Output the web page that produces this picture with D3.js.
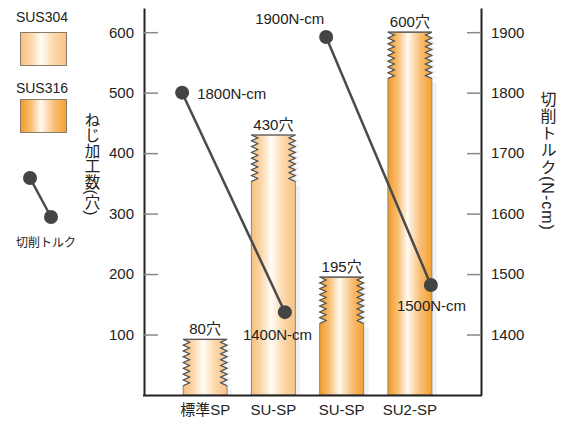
<!DOCTYPE html>
<html>
<head>
<meta charset="utf-8">
<script src="https://cdn.jsdelivr.net/npm/d3@7"></script>
<style>
    body { margin: 0; background: #fff; }
    text { font-family: "Liberation Sans", "Noto Sans CJK JP", sans-serif; fill: #222; }
    .tick line { stroke: #888; stroke-width: 1.5; }
</style>
</head>
<body>
<svg id="chart" width="565" height="422"></svg>
<script>
/*------------------- data --------------------*/
// categories along the bottom (two SU-SP bars)
const categories = ["標準SP", "SU-SP", "SU-SP", "SU2-SP"];
// material of each bar
const materials = ["SUS304", "SUS304", "SUS316", "SUS316"];
// hole counts as drawn
const holes = [92, 430, 195, 600];
const holeLabels = ["80穴", "430穴", "195穴", "600穴"];
// cutting torque as plotted, and its labels
const torque = [1800, 1437, 1892, 1482];
const torqueLabels = ["1800N-cm", "1400N-cm", "1900N-cm", "1500N-cm"];
// which bars the torque lines link
const torquePairs = [[0, 1], [2, 3]];
// tick labels
const leftTicks = [100, 200, 300, 400, 500, 600];
const rightTicks = [1400, 1500, 1600, 1700, 1800, 1900];

/*------------------- setup --------------------*/
const svg = d3.select("#chart");

const xScale = d3.scaleBand()
    .domain(d3.range(categories.length))
    .range([171, 444])
    .paddingInner(0.356)
    .paddingOuter(0.178);

const yLeft = d3.scaleLinear().domain([0, 640]).range([395, 8]);
const yRight = d3.scaleLinear().domain([1300, 1940]).range([395, 8]);

const defs = svg.append("defs");

function gradient(id, stops) {
    const g = defs.append("linearGradient").attr("id", id)
        .attr("x1", "0%").attr("x2", "100%").attr("y1", "0%").attr("y2", "0%");
    stops.forEach(s => g.append("stop").attr("offset", s[0]).attr("stop-color", s[1]));
}
gradient("g304", [["0%", "#f7c080"], ["22%", "#fbd6a8"], ["45%", "#fffcf7"], ["72%", "#fcd8ab"], ["100%", "#f8c388"]]);
gradient("g316", [["0%", "#f39a22"], ["22%", "#f8bd70"], ["45%", "#fffaf2"], ["72%", "#f9c07a"], ["100%", "#f4a02e"]]);
gradient("gShadow", [["0%", "#d8d8d8"], ["100%", "#f2f2f2"]]);

const fillFor = m => m === "SUS304" ? "url(#g304)" : "url(#g316)";

// thread geometry
const amp = 6.5, pitch = 5.8, threadLen = 44;

function threadCount(top, bottom) {
    return Math.max(1, Math.round(Math.min(threadLen, bottom - top - 5) / pitch));
}

// one threaded side, from top down, outer edge at xo, teeth towards xo + dir*amp
function threadPts(xo, dir, top, n) {
    const pts = [[xo, top]];
    for (let i = 0; i < n; i++) {
        pts.push([xo + dir * amp, top + (i + 0.5) * pitch]);
        pts.push([xo, top + (i + 1) * pitch]);
    }
    return pts;
}

// bar outline with threaded top
function barPath(x0, x1, top, bottom) {
    const n = threadCount(top, bottom);
    const left = threadPts(x0, 1, top, n);
    const right = threadPts(x1, -1, top, n).reverse();
    const pts = left.concat([[x0, bottom], [x1, bottom]], right);
    return "M" + pts.map(d => d[0] + "," + d[1]).join("L") + "Z";
}

function threadPath(x0, x1, top, bottom) {
    const n = threadCount(top, bottom);
    const line = d3.line();
    return line(threadPts(x0, 1, top, n)) + line(threadPts(x1, -1, top, n));
}

/*------------------- bars --------------------*/
const bars = svg.append("g");
const bx0 = i => xScale(i);
const bx1 = i => xScale(i) + xScale.bandwidth();

bars.selectAll(".shadow")
    .data(holes)
    .enter()
    .append("path")
    .attr("class", "shadow")
    .attr("fill", "url(#gShadow)")
    .attr("d", (d, i) => barPath(bx0(i) + 5, bx1(i) + 5, yLeft(d) + 5, 395));

bars.selectAll(".bar")
    .data(holes)
    .enter()
    .append("path")
    .attr("class", "bar")
    .attr("fill", (d, i) => fillFor(materials[i]))
    .attr("stroke", "#888")
    .attr("stroke-width", 1)
    .attr("d", (d, i) => barPath(bx0(i), bx1(i), yLeft(d), 395));

bars.selectAll(".thread")
    .data(holes)
    .enter()
    .append("path")
    .attr("class", "thread")
    .attr("fill", "none")
    .attr("stroke", "#555")
    .attr("stroke-width", 1.1)
    .attr("d", (d, i) => threadPath(bx0(i), bx1(i), yLeft(d), 395));

bars.selectAll(".barTop")
    .data(holes)
    .enter()
    .append("line")
    .attr("class", "barTop")
    .attr("x1", (d, i) => bx0(i)).attr("x2", (d, i) => bx1(i))
    .attr("y1", d => yLeft(d)).attr("y2", d => yLeft(d))
    .attr("stroke", "#555")
    .attr("stroke-width", 1.2);

bars.selectAll(".barLabel")
    .data(holes)
    .enter()
    .append("text")
    .attr("class", "barLabel")
    .attr("x", (d, i) => xScale(i) + xScale.bandwidth() / 2)
    .attr("y", d => yLeft(d) - 5)
    .attr("text-anchor", "middle")
    .style("font-size", "15px")
    .text((d, i) => holeLabels[i]);

/*------------------- axes --------------------*/
svg.append("g")
    .attr("transform", "translate(144,0)")
    .call(d3.axisLeft(yLeft).tickValues(leftTicks).tickSizeInner(-14).tickSizeOuter(0).tickPadding(10))
    .call(g => g.select(".domain").attr("stroke", "#222").attr("stroke-width", 2))
    .call(g => g.selectAll(".tick text").style("font-size", "15px").attr("fill", "#222"));

svg.append("g")
    .attr("transform", "translate(481,0)")
    .call(d3.axisRight(yRight).tickValues(rightTicks).tickFormat(d3.format("d"))
        .tickSizeInner(-14).tickSizeOuter(0).tickPadding(10))
    .call(g => g.select(".domain").attr("stroke", "#222").attr("stroke-width", 2))
    .call(g => g.selectAll(".tick text").style("font-size", "15px").attr("fill", "#222"));

svg.append("g")
    .attr("transform", "translate(0,396)")
    .call(d3.axisBottom(xScale).tickSize(0).tickPadding(8).tickFormat(i => categories[i]))
    .call(g => g.select(".domain").remove())
    .call(g => g.selectAll(".tick text").style("font-size", "15px").attr("fill", "#222"));

svg.append("line")
    .attr("x1", 143).attr("x2", 482)
    .attr("y1", 395.5).attr("y2", 395.5)
    .attr("stroke", "#222").attr("stroke-width", 2);

// axis titles (vertical writing)
svg.append("text")
    .attr("x", 91).attr("y", 112)
    .style("writing-mode", "vertical-rl")
    .style("font-size", "15.5px")
    .text("ねじ加工数(穴)");

svg.append("text")
    .attr("x", 547).attr("y", 91)
    .style("writing-mode", "vertical-rl")
    .style("font-size", "16px")
    .style("letter-spacing", "1px")
    .text("切削トルク(N-cm)");

/*------------------- torque lines --------------------*/
// nudges of the points inside each band
const pointShift = [-23, 11.5, -15.5, 21];
const px = i => xScale(i) + xScale.bandwidth() / 2 + pointShift[i];
const py = i => yRight(torque[i]);

svg.append("g").selectAll("line")
    .data(torquePairs)
    .enter()
    .append("line")
    .attr("x1", d => px(d[0])).attr("y1", d => py(d[0]))
    .attr("x2", d => px(d[1])).attr("y2", d => py(d[1]))
    .attr("stroke", "#4a4a4a")
    .attr("stroke-width", 2.5);

svg.append("g").selectAll("circle")
    .data(torque)
    .enter()
    .append("circle")
    .attr("cx", (d, i) => px(i))
    .attr("cy", (d, i) => py(i))
    .attr("r", 7)
    .attr("fill", "#444");

const labelShift = [[15, 6], [-42, 28], [-71, -13], [-34, 26]];
svg.append("g").selectAll("text")
    .data(torque)
    .enter()
    .append("text")
    .attr("x", (d, i) => px(i) + labelShift[i][0])
    .attr("y", (d, i) => py(i) + labelShift[i][1])
    .style("font-size", "15px")
    .text((d, i) => torqueLabels[i]);

/*------------------- legend --------------------*/
const legend = svg.append("g");
const legendMats = ["SUS304", "SUS316"];

legend.selectAll(".lgText")
    .data(legendMats)
    .enter()
    .append("text")
    .attr("x", 42)
    .attr("y", (d, i) => 22 + i * 71)
    .attr("text-anchor", "middle")
    .style("font-size", "14px")
    .text(d => d);

legend.selectAll(".lgBox")
    .data(legendMats)
    .enter()
    .append("rect")
    .attr("x", 20.5)
    .attr("y", (d, i) => 32.5 + i * 67)
    .attr("width", 46)
    .attr("height", 33)
    .attr("fill", d => fillFor(d))
    .attr("stroke", "#8a7a6a")
    .attr("stroke-width", 1);

legend.append("line")
    .attr("x1", 30).attr("y1", 178)
    .attr("x2", 51).attr("y2", 217)
    .attr("stroke", "#4a4a4a").attr("stroke-width", 2.5);

legend.selectAll("circle")
    .data([[30, 178], [51, 217]])
    .enter()
    .append("circle")
    .attr("cx", d => d[0]).attr("cy", d => d[1])
    .attr("r", 7)
    .attr("fill", "#444");

legend.append("text")
    .attr("x", 46).attr("y", 247)
    .attr("text-anchor", "middle")
    .style("font-size", "12px")
    .text("切削トルク");
</script>
</body>
</html>
